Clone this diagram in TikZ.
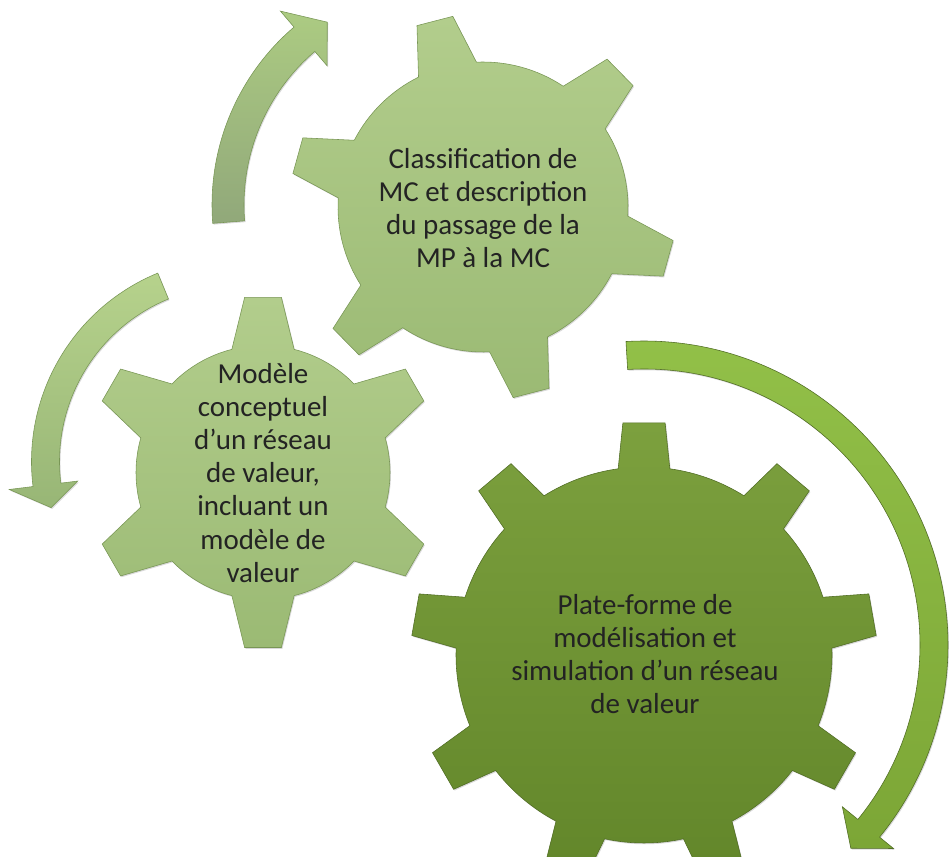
\documentclass[tikz,border=0pt]{standalone}
\usepackage{fontspec}
\setmainfont{Carlito}
\usetikzlibrary{shadows}
\definecolor{lighttop}{RGB}{178,205,140}
\definecolor{lightbot}{RGB}{155,186,116}
\definecolor{lightedge}{RGB}{120,150,85}
\definecolor{darktop}{RGB}{124,160,62}
\definecolor{darkbot}{RGB}{98,134,42}
\definecolor{darkedge}{RGB}{80,108,36}
\definecolor{arrowtoptop}{RGB}{172,203,130}
\definecolor{arrowtopbot}{RGB}{145,168,122}
\definecolor{arrowlefttop}{RGB}{182,210,140}
\definecolor{arrowleftbot}{RGB}{152,182,118}
\definecolor{arrowbigtop}{RGB}{146,192,72}
\definecolor{arrowbigbot}{RGB}{124,166,54}
\definecolor{labelgray}{RGB}{35,35,35}

% gear: centre, teeth, body r, tip r, first tooth angle, base half-angle, tip half-angle, style
\newcommand{\drawgear}[8]{%
  \begin{scope}[shift={#1}]
    \path[#8] ({#5-#6}:#3) \foreach \k in {1,...,#2}{
      -- ({#5+(\k-1)*360/#2-#7}:#4) -- ({#5+(\k-1)*360/#2+#7}:#4)
      -- ({#5+(\k-1)*360/#2+#6}:#3)
      arc[start angle={#5+(\k-1)*360/#2+#6}, end angle={#5+\k*360/#2-#6}, radius=#3]
    } -- cycle;
  \end{scope}}

% circular arrow: centre, r in, r out, start angle, head angle, barb in, barb out, tip angle, style
\newcommand{\drawarrow}[9]{%
  \begin{scope}[shift={#1}]
    \path[#9] ({#4}:#2) arc[start angle=#4, end angle=#5, radius=#2]
      -- ({#5}:#6) -- ({#8}:{(#2+#3)/2}) -- ({#5}:#7) -- ({#5}:#3)
      arc[start angle=#5, end angle=#4, radius=#3] -- cycle;
  \end{scope}}

\tikzset{
  softshadow/.style={drop shadow={opacity=0.3,shadow xshift=0.7pt,shadow yshift=-0.9pt}},
  gearlight/.style={softshadow,top color=lighttop,bottom color=lightbot,draw=lightedge,line width=0.4pt},
  geardark/.style={softshadow,top color=darktop,bottom color=darkbot,draw=darkedge,line width=0.4pt},
  arrowtop/.style={softshadow,top color=arrowtoptop,bottom color=arrowtopbot,draw=lightedge,line width=0.4pt},
  arrowleft/.style={softshadow,top color=arrowlefttop,bottom color=arrowleftbot,draw=lightedge,line width=0.4pt},
  arrowbig/.style={softshadow,top color=arrowbigtop,bottom color=arrowbigbot,draw=darkedge,line width=0.4pt},
  gearlabel/.style={align=center,text=labelgray,font=\fontsize{20.6pt}{23.5pt}\selectfont}
}

\begin{document}
\begin{tikzpicture}[x=0.25mm,y=0.25mm]
  \useasboundingbox (0,0) rectangle (949,857);

  % gears
  \drawgear{(483,650)}{6}{145}{193}{104.5}{11.9}{5.5}{gearlight}
  \drawgear{(263,384.5)}{6}{127}{176}{90}{14.2}{6}{gearlight}
  \drawgear{(644,202)}{9}{188}{233}{90}{7.9}{5.2}{geardark}

  % arrows
  \drawarrow{(446,652)}{202}{234}{184.5}{130.5}{183}{255}{123}{arrowtop}
  \drawarrow{(235.5,395.3)}{176}{204}{112.4}{187}{159}{228}{194}{arrowleft}
  \drawarrow{(644,212)}{276}{304}{93.4}{-39.2}{256}{322}{-44.5}{arrowbig}

  % labels
  \node[gearlabel] (classif) at (483,648.5) {Classification de\\MC et description\\du passage de la\\MP à la MC};
  \node[gearlabel] (modele) at (263,384) {Modèle\\conceptuel\\d’un réseau\\de valeur,\\incluant un\\modèle de\\valeur};
  \node[gearlabel] (plateforme) at (645,203) {Plate-forme de\\modélisation et\\simulation d’un réseau\\de valeur};
\end{tikzpicture}
\end{document}
